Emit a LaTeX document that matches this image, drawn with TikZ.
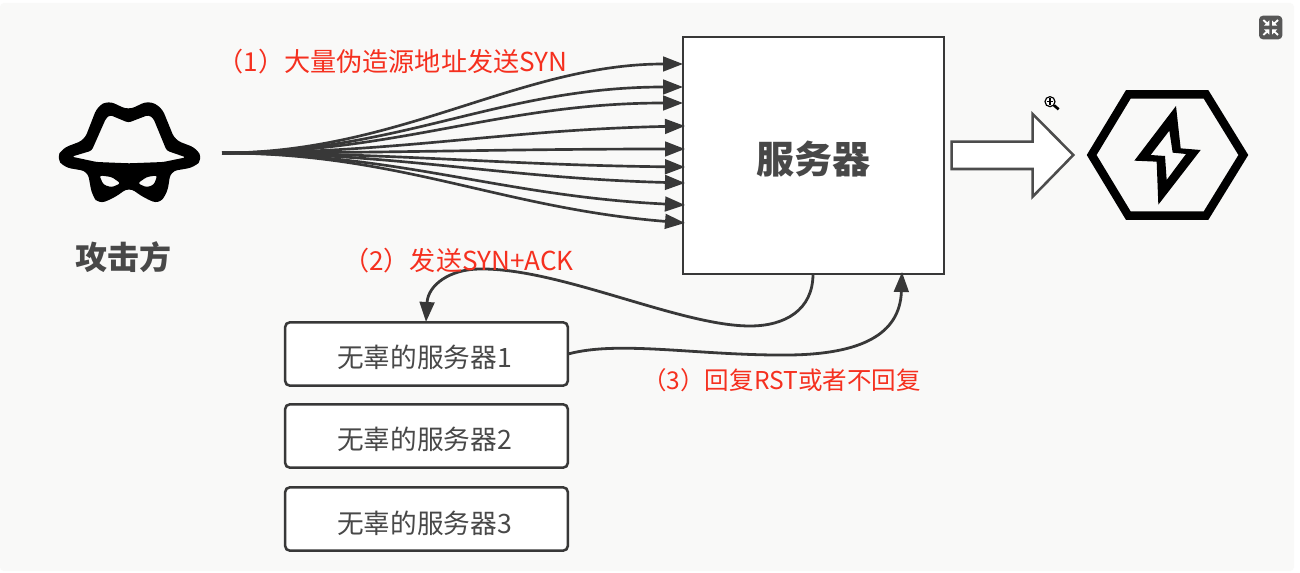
\documentclass[tikz,border=0pt]{standalone}
\usepackage{fontspec}
\setmainfont{Noto Sans CJK SC}
\usetikzlibrary{arrows.meta}
\definecolor{bgc}{HTML}{F9F9F8}
\definecolor{linec}{HTML}{383838}
\definecolor{txtc}{HTML}{484848}
\definecolor{redc}{HTML}{F5301F}
\tikzset{
  x=0.75pt,y=-0.75pt,
  conn/.style={draw=linec,line width=2.1pt,-{Triangle[length=15pt,width=11pt]}},
  flow/.style={conn,line width=2pt},
  mainbox/.style={draw=linec,fill=white,line width=1.9pt,minimum width=195.75pt,minimum height=177.75pt,inner sep=0pt},
  innocent/.style={draw=linec,fill=white,line width=1.9pt,rounded corners=3.5pt,minimum width=212pt,minimum height=47.5pt,inner sep=0pt,text=txtc,font=\fontsize{20}{22}\selectfont},
  redlabel/.style={text=redc,inner sep=0pt,font=\fontsize{#1}{22}\selectfont},
  boldlabel/.style={text=txtc,inner sep=0pt,font=\bfseries\fontsize{#1}{30}\selectfont},
}
\newcommand{\lowtxt}[1]{\hspace*{-3pt}\raisebox{-10.5pt}[10pt][10pt]{#1}}
\begin{document}
\begin{tikzpicture}
\useasboundingbox (0,0) rectangle (1300,573);
\fill[white] (0,0) rectangle (1300,573);
\fill[bgc,rounded corners=3pt] (0,3) rectangle (1294,571);

% attacker icon
\begin{scope}[shift={(30,80)},x=0.25pt,y=-0.25pt]
\fill[black,even odd rule,rounded corners=5pt]
 (80,235) -- (97,205) -- (163,180) -- (202,80) -- (235,62) -- (295,90) -- (355,62) -- (395,82) -- (435,180) -- (500,205) -- (517,238) -- (492,262) -- (422,274) -- (412,338) -- (387,372) -- (345,355) -- (297,322) -- (250,355) -- (206,372) -- (186,345) -- (173,274) -- (103,262) -- cycle
 [rounded corners=2pt]
 (125,230) -- (185,212) -- (228,115) -- (240,105) -- (295,128) -- (355,105) -- (370,115) -- (410,212) -- (468,232) -- (400,246) -- (297,250) -- (200,246) -- cycle
 (208,286) -- (245,291) -- (272,310) -- (245,322) -- (220,314) -- cycle
 (382,286) -- (350,291) -- (323,310) -- (350,322) -- (372,314) -- cycle;
\end{scope}
\node[boldlabel=24] (attacker) at (123,257) {攻击方};

% main server
\node[mainbox] (server) at (813.5,155.5) {};
\node[boldlabel=28.5] (servertxt) at (813,159) {服务器};

% fan of SYN arrows
\coordinate (src) at (222,153);
\coordinate (e1) at (683,64);
\coordinate (e2) at (683,87);
\coordinate (e3) at (683,103);
\coordinate (e4) at (685,126);
\coordinate (e5) at (685,149);
\coordinate (e6) at (685,167);
\coordinate (e7) at (685,183);
\coordinate (e8) at (685,205);
\coordinate (e9) at (685,223);
\draw[flow] (src) .. controls (400,153) and (520,64) .. (e1);
\draw[flow] (src) .. controls (400,153) and (500,87) .. (e2);
\draw[flow] (src) .. controls (400,153) and (500,103) .. (e3);
\draw[flow] (src) .. controls (400,153) and (500,130) .. (e4);
\draw[flow] (src) .. controls (400,153) and (500,149) .. (e5);
\draw[flow] (src) .. controls (400,153) and (500,165) .. (e6);
\draw[flow] (src) .. controls (400,153) and (500,178) .. (e7);
\draw[flow] (src) .. controls (400,153) and (500,196) .. (e8);
\draw[flow] (src) .. controls (400,153) and (500,208) .. (e9);

% block arrow
\begin{scope}[shift={(940,0)},x=0.25pt,y=-0.25pt]
\draw[draw=linec!90,fill=white,line width=1.9pt,line join=miter]
 (35,425) -- (278,425) -- (278,342) -- (400,465) -- (278,590) -- (278,507) -- (35,507) -- cycle;
% hexagon icon
\draw[black,line width=6.3pt,line join=miter] (455,465) -- (565,283) -- (798,283) -- (910,465) -- (798,647) -- (565,647) -- cycle;
\fill[black,even odd rule]
 (708,318) -- (722,445) -- (782,450) -- (655,614) -- (650,485) -- (583,482) -- cycle
 (688,392) -- (632,465) -- (675,468) -- (680,540) -- (738,462) -- (698,458) -- cycle;
% zoom cursor
\draw[black,line width=0.9pt,fill=white] (330,305) circle (15);
\draw[black,line width=0.9pt] (320,305) -- (340,305) (330,295) -- (330,315);
\draw[black,line width=2pt] (342,316) -- (356,328);
% expand button
\fill[black!66,rounded corners=3pt] (957,47) rectangle (1027,118);
\draw[white,line width=1.4pt] (970,60) -- (985,74) (1014,60) -- (999,74) (970,105) -- (985,91) (1014,105) -- (999,91);
\fill[white] (988,77) -- (972,77) -- (988,61) -- cycle;
\fill[white] (996,77) -- (1012,77) -- (996,61) -- cycle;
\fill[white] (988,88) -- (972,88) -- (988,104) -- cycle;
\fill[white] (996,88) -- (1012,88) -- (996,104) -- cycle;
\end{scope}

% innocent servers
\node[innocent] (s1) at (426.5,354) {\lowtxt{无辜的服务器1}};
\node[innocent] (s2) at (426.5,436) {\lowtxt{无辜的服务器2}};
\node[innocent] (s3) at (426.5,519) {\lowtxt{无辜的服务器3}};

% reflected connectors
\coordinate (synout) at (813,274);
\coordinate (s1top) at (426,322);
\coordinate (s1right) at (568,354);
\coordinate (rstin) at (902,272);
\draw[conn] (synout) .. controls (813,310) and (785,326) .. (750,326) .. controls (680,326) and (560,268) .. (480,269) .. controls (450,269) and (428,285) .. (s1top);
\draw[conn] (s1right) .. controls (620,340) and (700,356) .. (790,355) .. controls (860,354) and (900,335) .. (rstin);

% labels
\node[redlabel=19.6] (l1) at (392.5,62) {（1）大量伪造源地址发送SYN};
\node[redlabel=19.6] (l2) at (458.5,261) {（2）发送SYN+ACK};
\node[redlabel=18.4] (l3) at (781.5,380) {（3）回复RST或者不回复};
\end{tikzpicture}
\end{document}
